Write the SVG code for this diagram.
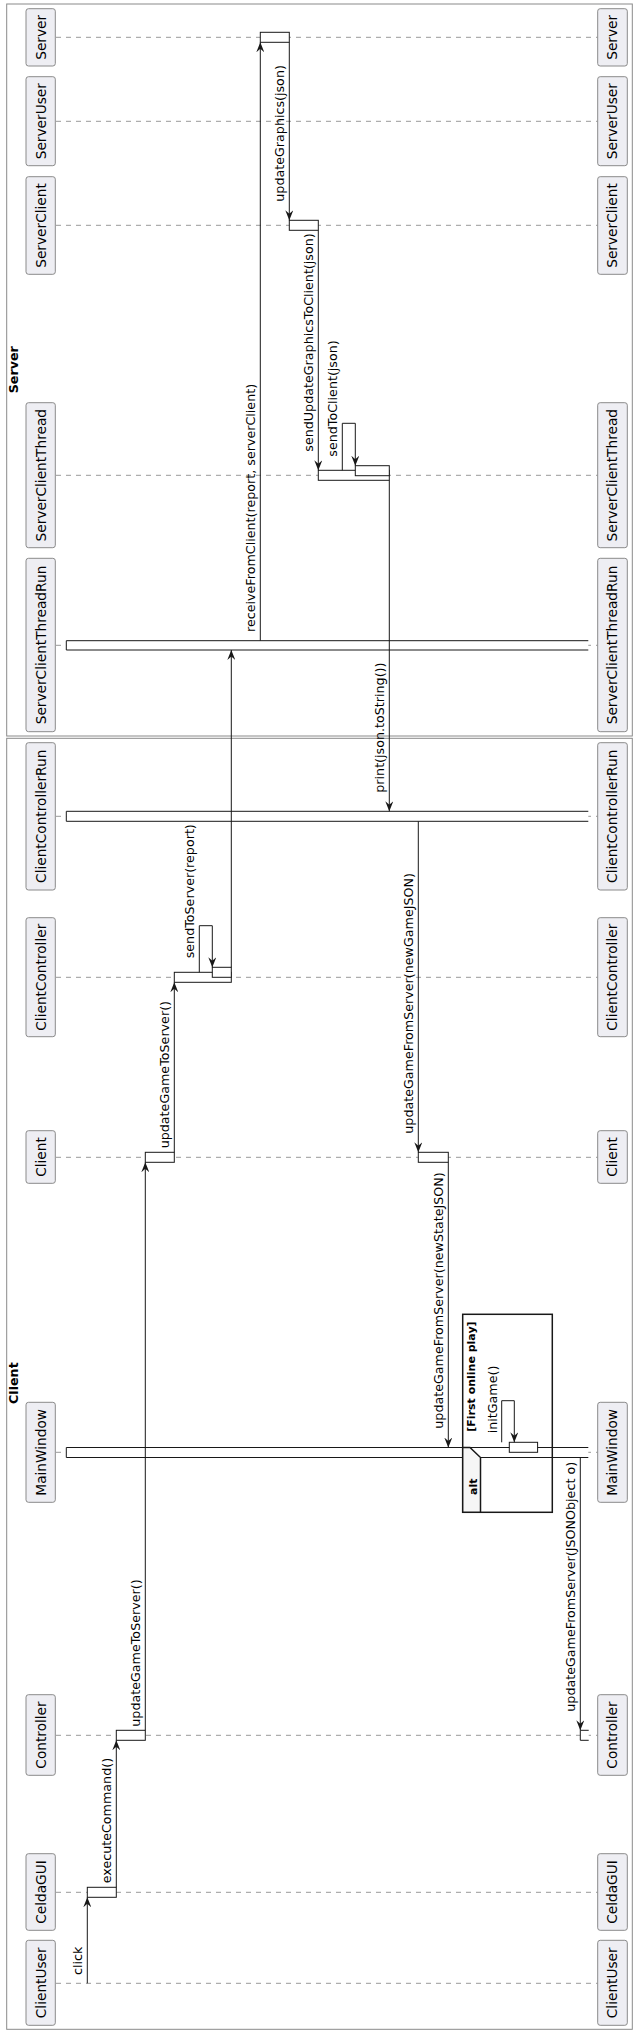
<svg xmlns="http://www.w3.org/2000/svg" width="637" height="2031" viewBox="0 0 637 2031">
<defs>
<marker id="ah" markerUnits="userSpaceOnUse" markerWidth="10" markerHeight="8" viewBox="0 0 10 8" refX="10" refY="4" orient="auto"><path d="M0,0 L10,4 L0,8 L3.5,4 Z" fill="#181818"/></marker>
<style>
.grp{fill:none;stroke:#8a8a8a;stroke-width:1}
.pb{fill:#EEEEF3;stroke:#8a8a8a;stroke-width:1}
.pt{font-family:"DejaVu Sans",sans-serif;font-size:13.7px;fill:#000;text-anchor:middle}
.ll{stroke:#999;stroke-width:1;stroke-dasharray:5,5}
.act{fill:#fff;stroke:#181818;stroke-width:1}
.msg{fill:none;stroke:#181818;stroke-width:1;marker-end:url(#ah)}
.lbl{font-family:"DejaVu Sans",sans-serif;font-size:12.7px;fill:#000}
.gt{font-family:"DejaVu Sans",sans-serif;font-size:12.7px;font-weight:bold;fill:#000}
.ft{font-family:"DejaVu Sans",sans-serif;font-size:11px;font-weight:bold;fill:#000}
.frag{fill:none;stroke:#181818;stroke-width:1.5}
.tab{fill:#F6F6F6;stroke:#181818;stroke-width:1.5}
</style>
</defs>
<rect x="0" y="0" width="637" height="2031" fill="#fff"/>
<g id="box-server">
<rect class="grp" x="6.7" y="4" width="625.6" height="732"/>
<text class="gt" transform="translate(18,393.3) rotate(-90)">Server</text>
</g>
<g id="box-client">
<rect class="grp" x="6.7" y="738.3" width="625.6" height="1291"/>
<text class="gt" transform="translate(18,1404) rotate(-90)">Client</text>
</g>
<g id="p-Server"><line class="ll" x1="56" y1="37.3" x2="597.7" y2="37.3"/><rect class="pb" x="26" y="8.7" width="29.3" height="57.3" rx="2.5"/><rect class="pb" x="597.7" y="8.7" width="29.6" height="57.3" rx="2.5"/><text class="pt" transform="translate(46,37.35) rotate(-90)">Server</text><text class="pt" transform="translate(617.3,37.35) rotate(-90)">Server</text></g>
<g id="p-ServerUser"><line class="ll" x1="56" y1="121.3" x2="597.7" y2="121.3"/><rect class="pb" x="26" y="76.7" width="29.3" height="89" rx="2.5"/><rect class="pb" x="597.7" y="76.7" width="29.6" height="89" rx="2.5"/><text class="pt" transform="translate(46,121.2) rotate(-90)">ServerUser</text><text class="pt" transform="translate(617.3,121.2) rotate(-90)">ServerUser</text></g>
<g id="p-ServerClient"><line class="ll" x1="56" y1="225.3" x2="597.7" y2="225.3"/><rect class="pb" x="26" y="176.7" width="29.3" height="97.6" rx="2.5"/><rect class="pb" x="597.7" y="176.7" width="29.6" height="97.6" rx="2.5"/><text class="pt" transform="translate(46,225.5) rotate(-90)">ServerClient</text><text class="pt" transform="translate(617.3,225.5) rotate(-90)">ServerClient</text></g>
<g id="p-ServerClientThread"><line class="ll" x1="56" y1="475.3" x2="597.7" y2="475.3"/><rect class="pb" x="26" y="402.7" width="29.3" height="145" rx="2.5"/><rect class="pb" x="597.7" y="402.7" width="29.6" height="145" rx="2.5"/><text class="pt" transform="translate(46,475.2) rotate(-90)">ServerClientThread</text><text class="pt" transform="translate(617.3,475.2) rotate(-90)">ServerClientThread</text></g>
<g id="p-ServerClientThreadRun"><line class="ll" x1="56" y1="645.3" x2="597.7" y2="645.3"/><rect class="pb" x="26" y="558.3" width="29.3" height="173.4" rx="2.5"/><rect class="pb" x="597.7" y="558.3" width="29.6" height="173.4" rx="2.5"/><text class="pt" transform="translate(46,645) rotate(-90)">ServerClientThreadRun</text><text class="pt" transform="translate(617.3,645) rotate(-90)">ServerClientThreadRun</text></g>
<g id="p-ClientControllerRun"><line class="ll" x1="56" y1="816.3" x2="597.7" y2="816.3"/><rect class="pb" x="26" y="742.7" width="29.3" height="147.3" rx="2.5"/><rect class="pb" x="597.7" y="742.7" width="29.6" height="147.3" rx="2.5"/><text class="pt" transform="translate(46,816.3) rotate(-90)">ClientControllerRun</text><text class="pt" transform="translate(617.3,816.3) rotate(-90)">ClientControllerRun</text></g>
<g id="p-ClientController"><line class="ll" x1="56" y1="977.3" x2="597.7" y2="977.3"/><rect class="pb" x="26" y="917.7" width="29.3" height="119" rx="2.5"/><rect class="pb" x="597.7" y="917.7" width="29.6" height="119" rx="2.5"/><text class="pt" transform="translate(46,977.2) rotate(-90)">ClientController</text><text class="pt" transform="translate(617.3,977.2) rotate(-90)">ClientController</text></g>
<g id="p-Client"><line class="ll" x1="56" y1="1157.3" x2="597.7" y2="1157.3"/><rect class="pb" x="26" y="1130.7" width="29.3" height="52.6" rx="2.5"/><rect class="pb" x="597.7" y="1130.7" width="29.6" height="52.6" rx="2.5"/><text class="pt" transform="translate(46,1157) rotate(-90)">Client</text><text class="pt" transform="translate(617.3,1157) rotate(-90)">Client</text></g>
<g id="p-MainWindow"><line class="ll" x1="56" y1="1452.3" x2="597.7" y2="1452.3"/><rect class="pb" x="26" y="1402.3" width="29.3" height="100" rx="2.5"/><rect class="pb" x="597.7" y="1402.3" width="29.6" height="100" rx="2.5"/><text class="pt" transform="translate(46,1452.3) rotate(-90)">MainWindow</text><text class="pt" transform="translate(617.3,1452.3) rotate(-90)">MainWindow</text></g>
<g id="p-Controller"><line class="ll" x1="56" y1="1735.3" x2="597.7" y2="1735.3"/><rect class="pb" x="26" y="1694.7" width="29.3" height="80.6" rx="2.5"/><rect class="pb" x="597.7" y="1694.7" width="29.6" height="80.6" rx="2.5"/><text class="pt" transform="translate(46,1735) rotate(-90)">Controller</text><text class="pt" transform="translate(617.3,1735) rotate(-90)">Controller</text></g>
<g id="p-CeldaGUI"><line class="ll" x1="56" y1="1892.3" x2="597.7" y2="1892.3"/><rect class="pb" x="26" y="1853.7" width="29.3" height="76.6" rx="2.5"/><rect class="pb" x="597.7" y="1853.7" width="29.6" height="76.6" rx="2.5"/><text class="pt" transform="translate(46,1892) rotate(-90)">CeldaGUI</text><text class="pt" transform="translate(617.3,1892) rotate(-90)">CeldaGUI</text></g>
<g id="p-ClientUser"><line class="ll" x1="56" y1="1983.3" x2="597.7" y2="1983.3"/><rect class="pb" x="26" y="1940.3" width="29.3" height="85" rx="2.5"/><rect class="pb" x="597.7" y="1940.3" width="29.6" height="85" rx="2.5"/><text class="pt" transform="translate(46,1982.8) rotate(-90)">ClientUser</text><text class="pt" transform="translate(617.3,1982.8) rotate(-90)">ClientUser</text></g>
<g id="activations">
<path class="act" d="M588.3,640.7 H66.3 V650 H588.3"/>
<path class="act" d="M588.3,811.3 H66.3 V821.3 H588.3"/>
<path class="act" d="M588.3,1447.5 H66.3 V1457.5 H588.3"/>
<rect class="act" x="260.3" y="32.3" width="29" height="10"/>
<rect class="act" x="289.3" y="220.3" width="29" height="10"/>
<rect class="act" x="318.3" y="470.3" width="71" height="10"/>
<rect class="act" x="355.3" y="465.7" width="34" height="10"/>
<rect class="act" x="174.3" y="972.3" width="57" height="10"/>
<rect class="act" x="212.3" y="967.3" width="19" height="10"/>
<rect class="act" x="145.3" y="1152.3" width="29" height="10"/>
<rect class="act" x="418.3" y="1152.3" width="30" height="10"/>
<rect class="act" x="509.3" y="1442.3" width="28.3" height="10"/>
<rect class="act" x="116.3" y="1730.3" width="29" height="10"/>
<path class="act" d="M588.7,1730.3 H580.3 V1740.3 H588.7"/>
<rect class="act" x="87.3" y="1887.3" width="29" height="10"/>
</g>
<g id="fragment-alt">
<rect class="frag" x="462.7" y="1314.3" width="89.6" height="198"/>
<path class="tab" d="M462.7,1512.3 V1447.5 H470 L480.5,1457.5 V1512.3 Z"/>
<text class="ft" transform="translate(476.5,1495) rotate(-90)">alt</text>
<text class="ft" transform="translate(475,1431.7) rotate(-90)">[First online play]</text>
</g>
<g id="connectors">
<path class="msg" d="M87.3,1983.3 V1897.3"/>
<path class="msg" d="M116.3,1887.3 V1740.3"/>
<path class="msg" d="M145.3,1730.3 V1162.3"/>
<path class="msg" d="M174.3,1152.3 V982.3"/>
<path class="msg" d="M199.3,972.3 V925.7 H212.3 V967.3"/>
<path class="msg" d="M231.3,967.3 V650"/>
<path class="msg" d="M260.3,640.7 V42.3"/>
<path class="msg" d="M289.3,42.3 V220.3"/>
<path class="msg" d="M318.3,230.3 V470.3"/>
<path class="msg" d="M342.3,470.3 V423.3 H355.3 V465.7"/>
<path class="msg" d="M389.3,480.3 V811.3"/>
<path class="msg" d="M418.3,821.3 V1152.3"/>
<path class="msg" d="M448.3,1162.3 V1447.5"/>
<path class="msg" d="M501.7,1442.3 V1400.7 H514.3 V1442.3"/>
<path class="msg" d="M580.3,1457.5 V1730.3"/>
<text class="lbl" transform="translate(82.3,1975) rotate(-90)">click</text>
<text class="lbl" transform="translate(111.3,1883.3) rotate(-90)">executeCommand()</text>
<text class="lbl" transform="translate(140.3,1726.7) rotate(-90)">updateGameToServer()</text>
<text class="lbl" transform="translate(169.3,1148.3) rotate(-90)">updateGameToServer()</text>
<text class="lbl" transform="translate(194.3,958.3) rotate(-90)">sendToServer(report)</text>
<text class="lbl" transform="translate(255.3,632) rotate(-90)">receiveFromClient(report, serverClient)</text>
<text class="lbl" transform="translate(284.3,201.7) rotate(-90)">updateGraphics(json)</text>
<text class="lbl" transform="translate(313.3,451.7) rotate(-90)">sendUpdateGraphicsToClient(json)</text>
<text class="lbl" transform="translate(337.3,456.7) rotate(-90)">sendToClient(json)</text>
<text class="lbl" transform="translate(384.3,792.7) rotate(-90)">print(json.toString())</text>
<text class="lbl" transform="translate(413.3,1133.7) rotate(-90)">updateGameFromServer(newGameJSON)</text>
<text class="lbl" transform="translate(443.3,1428.7) rotate(-90)">updateGameFromServer(newStateJSON)</text>
<text class="lbl" transform="translate(496.7,1433.3) rotate(-90)">initGame()</text>
<text class="lbl" transform="translate(575.3,1711.7) rotate(-90)">updateGameFromServer(JSONObject o)</text>
</g>
</svg>
